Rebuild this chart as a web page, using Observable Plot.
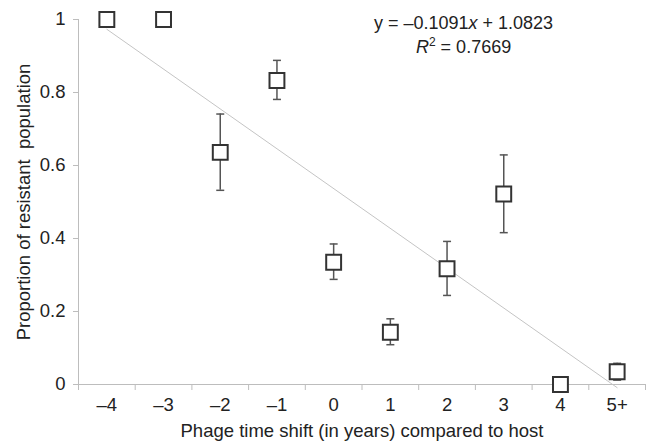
<!DOCTYPE html>
<html>
<head>
<meta charset="utf-8">
<script src="https://cdn.jsdelivr.net/npm/d3@7"></script>
<script src="https://cdn.jsdelivr.net/npm/@observablehq/plot@0.6"></script>
<style>
  html, body { margin: 0; padding: 0; background: white; }
  #chart svg g[aria-label="squares"] { filter: drop-shadow(1px 2px 1.5px rgba(0,0,0,0.4)); }
</style>
</head>
<body>
<div id="chart"></div>
<script>
const categories = ["\u20134", "\u20133", "\u20132", "\u20131", "0", "1", "2", "3", "4", "5+"];
const means   = [1, 1, 0.636, 0.833, 0.335, 0.143, 0.317, 0.522, 0, 0.035];
const errLow  = [null, null, 0.532, 0.781, 0.288, 0.109, 0.244, 0.416, null, 0.012];
const errHigh = [null, null, 0.741, 0.888, 0.385, 0.180, 0.392, 0.629, null, 0.058];
const yTicks = [0, 0.2, 0.4, 0.6, 0.8, 1];
const slope = -0.1091;
const intercept = 1.0823;
const r2 = "0.7669";

const data = categories.map((c, k) => ({i: k + 1, cat: c, y: means[k], lo: errLow[k], hi: errHigh[k]}));
const bars = data.filter(d => d.lo != null && d.hi != null);
const fit = [1, categories.length].map(i => ({i, y: slope * i + intercept}));
const boundaries = d3.range(categories.length + 1).map(k => k + 0.5);

const capSymbol = {
  draw(context, size) {
    const w = Math.sqrt(size / Math.PI);
    context.moveTo(-w, 0);
    context.lineTo(w, 0);
  }
};

const axisColor = "#bdbdbd";
const textColor = "#222";

const plot = Plot.plot({
  width: 652,
  height: 441,
  marginLeft: 78,
  marginRight: 7,
  marginTop: 19,
  marginBottom: 57,
  style: {fontFamily: "'Liberation Sans', Arial, Helvetica, sans-serif", fontSize: "18px", color: textColor, background: "white"},
  x: {domain: [0.5, categories.length + 0.5]},
  y: {domain: [0, 1]},
  marks: [
    Plot.axisY({ticks: yTicks, tickFormat: d => String(d), tickSize: 5, tickPadding: 8, stroke: axisColor, fill: textColor,
      label: "Proportion of resistant  population", labelAnchor: "center", labelArrow: "none", labelOffset: 62, fontSize: 18.5}),
    Plot.axisX({ticks: boundaries, tickFormat: () => "", tickSize: 6, stroke: axisColor, label: null}),
    Plot.axisX({ticks: data.map(d => d.i), tickFormat: i => categories[i - 1], tickSize: 0, tickPadding: 13, fill: textColor,
      label: "Phage time shift (in years) compared to host", labelAnchor: "center", labelArrow: "none", labelOffset: 52, fontSize: 18.5}),
    Plot.ruleX([0.5], {stroke: axisColor}),
    Plot.ruleY([0], {stroke: axisColor}),
    Plot.line(fit, {x: "i", y: "y", stroke: "#c4c4c4", strokeWidth: 1}),
    Plot.ruleX(bars, {x: "i", y1: "lo", y2: "hi", stroke: "#555", strokeWidth: 1.5}),
    Plot.dot(bars, {x: "i", y: "lo", symbol: capSymbol, r: 4, stroke: "#555", strokeWidth: 1.5, fill: "none"}),
    Plot.dot(bars, {x: "i", y: "hi", symbol: capSymbol, r: 4, stroke: "#555", strokeWidth: 1.5, fill: "none"}),
    Plot.dot(data, {x: "i", y: "y", symbol: "square", r: 8.4, fill: "white", stroke: "#333", strokeWidth: 2, ariaLabel: "squares"})
  ]
});

const sx = plot.scale("x"), sy = plot.scale("y");
const svg = d3.select(plot.tagName.toLowerCase() === "svg" ? plot : plot.querySelector("svg"));
const eq = svg.append("g").attr("fill", textColor).attr("font-size", 18).attr("text-anchor", "middle");
const ex = sx.apply(7.3);
const t1 = eq.append("text").attr("x", ex).attr("y", sy.apply(0.973));
t1.append("tspan").text("y = \u20130.1091");
t1.append("tspan").attr("font-style", "italic").text("x");
t1.append("tspan").text(` + ${intercept}`);
const t2 = eq.append("text").attr("x", ex).attr("y", sy.apply(0.907));
t2.append("tspan").attr("font-style", "italic").text("R");
t2.append("tspan").attr("font-size", 12).attr("dy", -7).text("2");
t2.append("tspan").attr("dy", 7).text(` = ${r2}`);

document.getElementById("chart").appendChild(plot);
</script>
</body>
</html>
